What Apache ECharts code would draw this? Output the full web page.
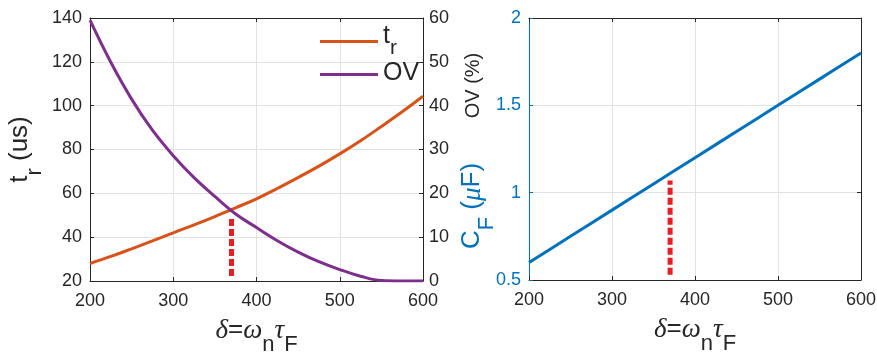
<!DOCTYPE html>
<html>
<head>
<meta charset="utf-8">
<script src="https://cdn.jsdelivr.net/npm/echarts@6/dist/echarts.min.js"></script>
<style>
  html, body { margin: 0; padding: 0; background: #fff; }
  #chart { width: 877px; height: 356px; }
</style>
</head>
<body>
<div id="chart"></div>
<script>
// Sweep of delta = omega_n * tau_F
const delta = [200, 225, 250, 275, 300, 325, 350, 375, 400, 425, 450, 475, 500, 525, 550, 575, 600];
// Rise time t_r (us)
const riseTime = [28.0, 31.2, 34.7, 38.3, 42.0, 45.6, 49.4, 53.4, 57.5, 62.2, 67.2, 72.4, 78.0, 84.0, 90.5, 97.2, 104.3];
// Overshoot OV (%)
const overshoot = [59.5, 49.9, 41.5, 34.4, 28.6, 23.6, 19.3, 15.3, 12.2, 9.2, 6.6, 4.4, 2.6, 1.1, 0.1, 0, 0];
// Feedback capacitance C_F (uF)
const capF = [0.6, 0.675, 0.75, 0.825, 0.9, 0.975, 1.05, 1.125, 1.2, 1.275, 1.35, 1.425, 1.5, 1.575, 1.65, 1.725, 1.8];
// Chosen operating point marker
const chosenDelta = 370;
const markerTr = [22.3, 48.8];
const markerCf = [0.53, 1.07];

const xTicks = { min: 200, max: 600, interval: 100 };
const trTicks = { min: 20, max: 140, interval: 20 };
const ovTicks = { min: 0, max: 60, interval: 10 };
const cfTicks = { min: 0.5, max: 2, interval: 0.5 };

const INK = '#262626';
const GRID = '#e2e2e2';
const ORANGE = '#D95319';
const PURPLE = '#7E2F8E';
const BLUE = '#0072BD';
const RED = '#EC1C24';
const SANS = '"Liberation Sans", Arial, sans-serif';
const SERIF = '"Liberation Serif", "DejaVu Serif", serif';

const richBase = (color) => ({
  m: { fontSize: 26, fontFamily: SANS, color: color, lineHeight: 28, verticalAlign: 'top' },
  g: { fontSize: 27, fontFamily: SERIF, fontStyle: 'italic', color: color, lineHeight: 28, verticalAlign: 'top' },
  s: { fontSize: 22, fontFamily: SANS, color: color, lineHeight: 39, verticalAlign: 'bottom' }
});

const deltaTitle = '{g|δ}{m|=}{g|ω}{s|n}{g|τ}{s|F}';

function xAxisPair(gridIndex) {
  return [
    {
      type: 'value', gridIndex, position: 'bottom',
      min: xTicks.min, max: xTicks.max, interval: xTicks.interval,
      name: deltaTitle, nameLocation: 'middle', nameGap: 36,
      nameMoveOverlap: false,
      nameTextStyle: { rich: richBase(INK) },
      axisLine: { show: true, lineStyle: { color: INK, width: 1 } },
      axisTick: { show: true, inside: true, length: 4, lineStyle: { color: INK } },
      axisLabel: { color: INK, fontSize: 18, fontFamily: SANS, margin: 11 },
      splitLine: { show: true, lineStyle: { color: GRID, width: 1 } }
    },
    {
      type: 'value', gridIndex, position: 'top',
      min: xTicks.min, max: xTicks.max, interval: xTicks.interval,
      axisLine: { show: true, lineStyle: { color: INK, width: 1 } },
      axisTick: { show: true, inside: true, length: 4, lineStyle: { color: INK } },
      axisLabel: { show: false },
      splitLine: { show: false }
    }
  ];
}

const chart = echarts.init(document.getElementById('chart'), null, { renderer: 'canvas' });

chart.setOption({
  animation: false,
  backgroundColor: '#ffffff',
  grid: [
    { left: 90, top: 18, width: 333, height: 263, outerBoundsMode: 'none', containLabel: false },
    { left: 529, top: 18, width: 332, height: 262, outerBoundsMode: 'none', containLabel: false }
  ],
  xAxis: [...xAxisPair(0), ...xAxisPair(1)],
  yAxis: [
    {
      type: 'value', gridIndex: 0, position: 'left',
      min: trTicks.min, max: trTicks.max, interval: trTicks.interval,
      name: '{m|t}{s|r}{m| (us)}', nameLocation: 'middle', nameGap: 44, nameRotate: 90,
      nameMoveOverlap: false,
      nameTextStyle: { rich: richBase(INK) },
      axisLine: { show: true, lineStyle: { color: INK, width: 1 } },
      axisTick: { show: true, inside: true, length: 4, lineStyle: { color: INK } },
      axisLabel: { color: INK, fontSize: 18, fontFamily: SANS, margin: 8 },
      splitLine: { show: true, lineStyle: { color: GRID, width: 1 } }
    },
    {
      type: 'value', gridIndex: 0, position: 'right',
      min: ovTicks.min, max: ovTicks.max, interval: ovTicks.interval,
      name: 'OV (%)', nameLocation: 'middle', nameGap: 40, nameRotate: 90,
      nameMoveOverlap: false,
      nameTextStyle: { color: INK, fontSize: 20, fontFamily: SANS, padding: [0, 0, 0, 128] },
      axisLine: { show: true, lineStyle: { color: INK, width: 1 } },
      axisTick: { show: true, inside: true, length: 4, lineStyle: { color: INK } },
      axisLabel: { color: INK, fontSize: 18, fontFamily: SANS, margin: 6 },
      splitLine: { show: false }
    },
    {
      type: 'value', gridIndex: 1, position: 'left',
      min: cfTicks.min, max: cfTicks.max, interval: cfTicks.interval,
      name: '{m|C}{s|F}{m| (}{g|μ}{m|F)}', nameLocation: 'middle', nameGap: 31, nameRotate: 90,
      nameMoveOverlap: false,
      nameTextStyle: { rich: richBase(BLUE), padding: [0, 114, 0, 0] },
      axisLine: { show: true, lineStyle: { color: BLUE, width: 1 } },
      axisTick: { show: true, inside: true, length: 4, lineStyle: { color: BLUE } },
      axisLabel: { color: BLUE, fontSize: 18, fontFamily: SANS, margin: 8 },
      splitLine: { show: true, lineStyle: { color: GRID, width: 1 } }
    },
    {
      type: 'value', gridIndex: 1, position: 'right',
      min: cfTicks.min, max: cfTicks.max, interval: cfTicks.interval,
      axisLine: { show: true, lineStyle: { color: INK, width: 1 } },
      axisTick: { show: true, inside: true, length: 4, lineStyle: { color: INK } },
      axisLabel: { show: false },
      splitLine: { show: false }
    }
  ],
  legend: {
    data: ['t_r', 'OV'],
    orient: 'vertical',
    left: 315, top: 19,
    itemWidth: 58, itemHeight: 14, itemGap: 2,
    icon: 'path://M0,0 L58,0 L58,3 L0,3 Z',
    formatter: (name) => name === 't_r' ? '{m|t}{s|r}' : '{m|OV}',
    textStyle: { padding: [0, 0, 0, 0], rich: {
      m: { fontSize: 25, fontFamily: SANS, color: INK, lineHeight: 27, verticalAlign: 'top' },
      s: { fontSize: 21, fontFamily: SANS, color: INK, lineHeight: 35, verticalAlign: 'bottom' }
    } }
  },
  series: [
    {
      name: 't_r', type: 'line', xAxisIndex: 0, yAxisIndex: 0,
      data: delta.map((d, i) => [d, riseTime[i]]),
      symbol: 'none', smooth: 0.4,
      itemStyle: { color: ORANGE },
      lineStyle: { color: ORANGE, width: 3 }
    },
    {
      name: 'OV', type: 'line', xAxisIndex: 0, yAxisIndex: 1,
      data: delta.map((d, i) => [d, overshoot[i]]),
      symbol: 'none', smooth: 0.4,
      itemStyle: { color: PURPLE },
      lineStyle: { color: PURPLE, width: 3 }
    },
    {
      name: 'marker-left', type: 'line', xAxisIndex: 0, yAxisIndex: 0,
      data: markerTr.map(v => [chosenDelta, v]),
      symbol: 'none', silent: true,
      lineStyle: { color: RED, width: 5, type: [7, 3] }
    },
    {
      name: 'C_F', type: 'line', xAxisIndex: 2, yAxisIndex: 2,
      data: delta.map((d, i) => [d, capF[i]]),
      symbol: 'none',
      itemStyle: { color: BLUE },
      lineStyle: { color: BLUE, width: 3 }
    },
    {
      name: 'marker-right', type: 'line', xAxisIndex: 2, yAxisIndex: 2,
      data: markerCf.map(v => [chosenDelta, v]),
      symbol: 'none', silent: true,
      lineStyle: { color: RED, width: 5, type: [7, 3] }
    }
  ]
});
</script>
</body>
</html>
